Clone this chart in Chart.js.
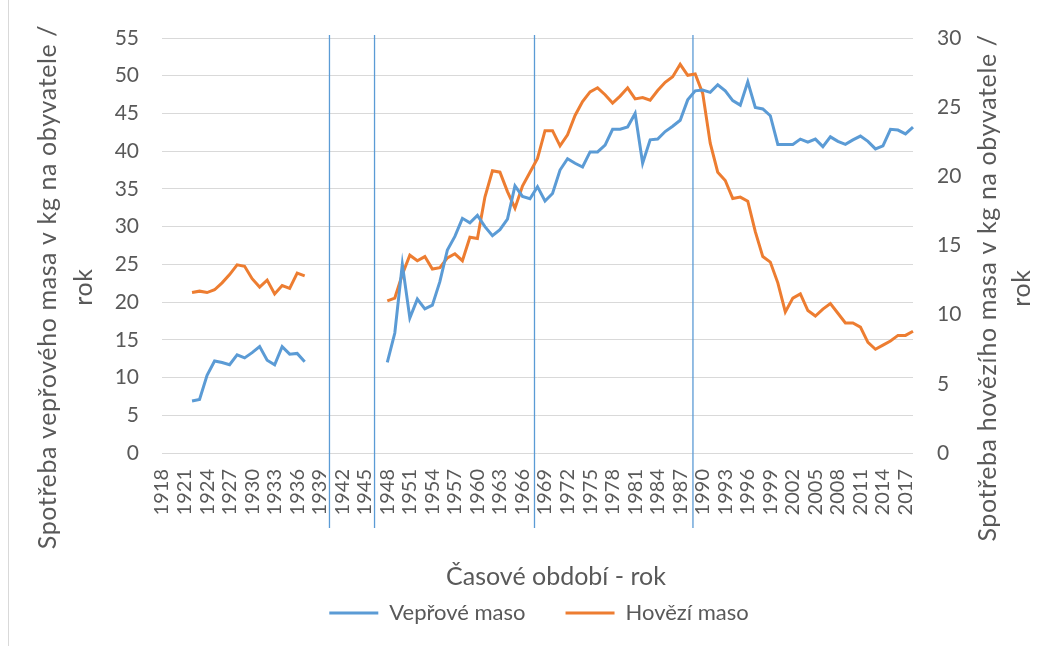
<!DOCTYPE html>
<html>
<head>
<meta charset="utf-8">
<script src="https://cdn.jsdelivr.net/npm/chart.js@4.4.1/dist/chart.umd.min.js"></script>
<style>
body{margin:0;background:#fff;}
#wrap{position:relative;width:1057px;height:646px;}
#edge{position:absolute;left:8px;top:0;width:1px;height:646px;background:#d9d9d9;}
</style>
</head>
<body>
<div id="wrap">
<div id="edge"></div>
<canvas id="meatChart" width="1057" height="646"></canvas>
</div>
<script>

// years 1918 - 2018
const years = [];
for(let y=1918;y<=2018;y++) years.push(String(y));

// pork, kg per person (left axis)
const porkPreWar = [6.9,7.1,10.3,12.2,12.0,11.7,13.0,12.6,13.3,14.1,12.3,11.7,14.1,13.1,13.2,12.1]; // 1922-1937
const porkPostWar = [
12.0,15.9,25.0,17.9,20.4,19.1,19.6,22.7,26.9,28.7,
31.1,30.5,31.5,30.0,28.8,29.6,31.0,35.4,34.0,33.7,
35.3,33.4,34.4,37.5,39.0,38.4,37.9,39.9,39.9,40.8,
42.9,42.9,43.2,45.0,38.4,41.5,41.6,42.6,43.3,44.1,
46.8,48.0,48.1,47.8,48.8,48.0,46.7,46.1,49.2,45.8,
45.6,44.7,40.9,40.9,40.9,41.6,41.2,41.6,40.6,41.9,
41.3,40.9,41.5,42.0,41.3,40.3,40.7,42.9,42.8,42.3,
43.2]; // 1948-2018

// beef, kg per person (right axis)
const beefPreWar = [11.6,11.7,11.6,11.8,12.3,12.9,13.6,13.5,12.6,12.0,12.5,11.5,12.1,11.9,13.0,12.8]; // 1922-1937
const beefPostWar = [
11.0,11.2,12.9,14.3,13.9,14.2,13.3,13.4,14.1,14.4,
13.9,15.6,15.5,18.5,20.4,20.3,18.9,17.7,19.3,20.3,
21.3,23.3,23.3,22.2,23.0,24.4,25.4,26.1,26.4,25.9,
25.3,25.8,26.4,25.6,25.7,25.5,26.2,26.8,27.2,28.1,
27.3,27.4,26.0,22.4,20.3,19.7,18.4,18.5,18.2,16.0,
14.2,13.8,12.3,10.2,11.2,11.5,10.3,9.9,10.4,10.8,
10.1,9.4,9.4,9.1,8.0,7.5,7.8,8.1,8.5,8.5,
8.8]; // 1948-2018

// blue period dividers (year positions)
const periodMarks = [1940.3,1946.3,1967.6,1988.7];

function fullSeries(pre,post){
const out = years.map(()=>null);
pre.forEach((v,i)=>{ out[1922-1918+i] = v; });
post.forEach((v,i)=>{ out[1948-1918+i] = v; });
return out;
}

const porkData = fullSeries(porkPreWar,porkPostWar);
const beefData = fullSeries(beefPreWar,beefPostWar);

const textColor = "#595959";
const gridColor = "#d9d9d9";
const blue = "#5b9bd5";
const orange = "#ed7d31";

Chart.defaults.font.family = "Lato, 'Open Sans', sans-serif";
Chart.defaults.color = textColor;

const extras = {
id:"extras",
beforeDatasetsDraw(chart){
const ctx = chart.ctx;
const x = chart.scales.x;
const area = chart.chartArea;
ctx.save();
ctx.strokeStyle = blue;
ctx.lineWidth = 1.3;
periodMarks.forEach(yr=>{
const px = x.getPixelForValue(yr-1918);
ctx.beginPath();
ctx.moveTo(px,area.top-3);
ctx.lineTo(px,area.bottom+75);
ctx.stroke();
});
ctx.restore();
},
afterDraw(chart){
const ctx = chart.ctx;
ctx.save();
ctx.fillStyle = textColor;
ctx.textAlign = "center";
ctx.textBaseline = "middle";
ctx.font = "25px Lato";
ctx.fillText("Časové období - rok",556,577);

ctx.letterSpacing = "0.6px";
const vert = (txt,cx,cy)=>{
ctx.save();
ctx.translate(cx,cy);
ctx.rotate(-Math.PI/2);
ctx.fillText(txt,0,0);
ctx.restore();
};
vert("Spotřeba vepřového masa v kg na obyvatele /",48,287);
vert("rok",84,287);
vert("Spotřeba hovězího masa v kg na obyvatele /",988,288);
vert("rok",1022,288);
ctx.restore();
}
};

new Chart(document.getElementById("meatChart"),{
type:"line",
data:{
labels:years,
datasets:[
{
label:"Vepřové maso",
data:porkData,
borderColor:blue,
backgroundColor:blue,
borderWidth:3,
pointRadius:0,
spanGaps:false,
yAxisID:"y"
},
{
label:"Hovězí maso",
data:beefData,
borderColor:orange,
backgroundColor:orange,
borderWidth:3,
pointRadius:0,
spanGaps:false,
yAxisID:"y1"
}
]
},
options:{
responsive:false,
animation:false,
layout:{padding:{left:21,right:0,top:38,bottom:12}},
plugins:{
legend:{
position:"bottom",
align:"center",
labels:{
usePointStyle:true,
pointStyle:"line",
pointStyleWidth:49,
font:{size:22},
color:textColor,
padding:40
}
},
tooltip:{enabled:false}
},
scales:{
x:{
grid:{display:false,drawTicks:false},
border:{display:false},
ticks:{
autoSkip:false,
minRotation:90,
maxRotation:90,
padding:16,
font:{size:20},
callback:(v,i)=> i%3===0 ? years[i] : ""
},
afterFit:s=>{ s.height = 109; }
},
y:{
position:"left",
min:0,
max:55,
ticks:{stepSize:5,padding:23,font:{size:21}},
grid:{color:gridColor,lineWidth:1,drawTicks:false},
border:{display:false},
afterFit:s=>{ s.width = 141; }
},
y1:{
position:"right",
min:0,
max:30,
ticks:{stepSize:5,padding:24,font:{size:21}},
grid:{drawOnChartArea:false,drawTicks:false},
border:{display:false},
afterFit:s=>{ s.width = 144; }
}
}
},
plugins:[extras]
});

</script>
</body>
</html>
